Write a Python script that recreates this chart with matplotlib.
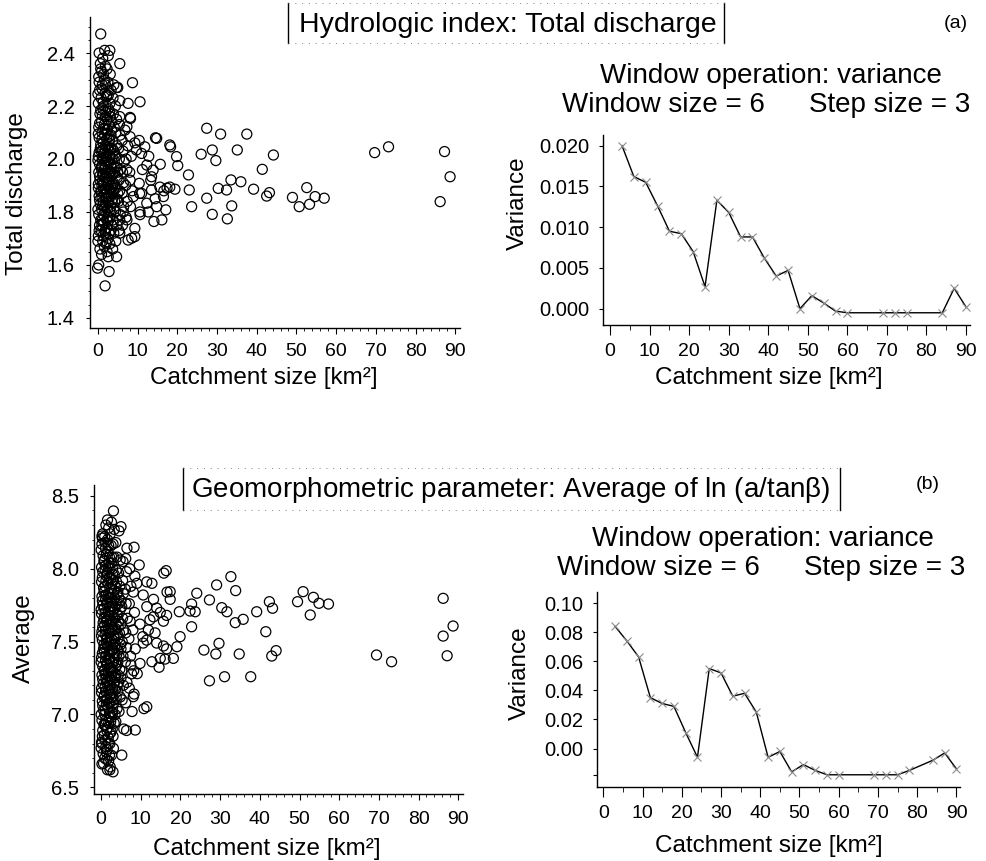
import numpy as np
import matplotlib
matplotlib.use("Agg")
import matplotlib.pyplot as plt
from matplotlib.lines import Line2D

plt.rcParams['font.family'] = ['Liberation Sans', 'DejaVu Sans']

# ---- (a) total discharge vs catchment size ----
discharge_far = [(27.4,2.116),(30.9,2.094),(37.5,2.094),(35.1,2.034),(26.0,2.018),(28.8,2.034),
    (29.7,1.994),(41.4,1.961),(44.2,2.015),(22.8,1.940),(20.1,1.975),(19.8,2.009),(18.3,2.046),
    (23.0,1.883),(23.6,1.820),(27.4,1.852),(30.3,1.889),(32.4,1.883),(33.5,1.921),(36.0,1.914),
    (33.7,1.823),(28.8,1.791),(32.6,1.774),(39.2,1.886),(42.5,1.860),(43.2,1.873),(49.0,1.855),
    (50.7,1.820),(52.6,1.892),(53.3,1.829),(54.7,1.858),(57.0,1.852),(69.7,2.024),(73.2,2.046),
    (87.3,2.028),(88.7,1.933),(86.2,1.839),(19.4,1.886),(17.1,1.808),(16.1,1.770),(14.1,1.764),
    (14.5,2.080)]
discharge_mid = [(3.0,2.41),(5.5,2.36),(8.7,2.288),(10.6,2.216),(8.1,2.157),(7.6,2.21),(5.0,2.27),
    (10.4,2.07),(14.8,2.078),(18.1,2.053),(18.1,1.894),(15.6,1.894),(13.5,1.933),(12.3,1.977),
    (11.0,2.021),(9.3,1.707),(7.6,1.694),(5.5,1.72),(2.8,1.575),(-0.1,1.588),(1.8,1.521),
    (4.7,1.631),(2.6,1.631),(5.5,1.77),(6.4,1.80),(10.6,1.80),(12.3,1.833),(8.9,1.858),(11.0,1.87),
    (13.5,1.883),(10.4,1.908),(8.1,1.92),(13.9,1.958),(16.5,1.858),(14.8,1.82),(12.7,1.80),
    (9.7,2.034),(8.1,2.084),(7.3,2.122),(5.5,2.16),(5.5,2.22),(0.7,2.472),(9.3,1.738),(8.5,1.701),
    (4.7,2.270),(8.2,2.153),(6.8,2.109),(9.3,2.061),(11.8,2.046),(11.2,1.96),(13.3,1.92),
    (10.5,1.87),(10.6,1.79),(7.3,1.77),(15.7,1.98),(14.4,1.85),(16.6,1.88),(17.4,1.89),(12.8,2.01)]
discharge_dense = [(0.2,1.60),(0.5,1.66),(0.1,1.71),(0.4,1.75),(0.2,1.79),(0.6,1.83),(0.3,1.86),
    (0.1,1.89),(0.5,1.92),(0.2,1.95),(0.4,1.98),(0.1,2.01),(0.6,2.04),(0.3,2.08),(0.2,2.12),
    (0.5,2.17),(0.1,2.21),(0.4,2.26),(0.2,2.31),(0.6,2.36),(0.3,2.40),
    (0.9,1.64),(1.2,1.69),(0.8,1.73),(1.1,1.77),(0.9,1.81),(1.3,1.84),(0.8,1.88),(1.0,1.90),
    (1.2,1.94),(0.9,1.97),(1.1,2.00),(0.8,2.03),(1.3,2.06),(1.0,2.10),(0.9,2.14),(1.2,2.19),
    (0.8,2.23),(1.1,2.28),(0.9,2.33),(1.2,2.38),
    (1.6,1.67),(1.9,1.72),(1.5,1.76),(1.8,1.80),(1.6,1.82),(2.0,1.85),(1.7,1.87),(1.5,1.91),
    (1.9,1.93),(1.6,1.96),(1.8,1.99),(1.5,2.02),(2.0,2.05),(1.7,2.09),(1.6,2.13),(1.9,2.16),
    (1.5,2.20),(1.8,2.25),(1.6,2.30),(1.9,2.35),(1.7,2.41),
    (2.3,1.65),(2.6,1.70),(2.2,1.74),(2.5,1.78),(2.4,1.81),(2.7,1.84),(2.2,1.87),(2.5,1.90),
    (2.3,1.93),(2.6,1.96),(2.4,1.99),(2.2,2.02),(2.7,2.06),(2.4,2.11),(2.3,2.15),(2.6,2.19),
    (2.2,2.24),(2.5,2.29),(2.3,2.34),(2.6,2.39),
    (3.0,1.68),(3.3,1.73),(2.9,1.78),(3.2,1.82),(3.0,1.86),(3.4,1.89),(2.9,1.92),(3.1,1.95),
    (3.3,1.98),(3.0,2.01),(3.2,2.04),(2.9,2.07),(3.4,2.11),(3.1,2.16),(3.0,2.21),(3.3,2.26),
    (3.1,2.32),
    (3.7,1.66),(4.0,1.72),(3.8,1.77),(4.1,1.81),(3.7,1.85),(4.0,1.88),(3.9,1.91),(3.6,1.94),
    (4.1,1.97),(3.8,2.00),(4.0,2.03),(3.7,2.07),(4.1,2.12),(3.9,2.17),(3.8,2.23),(4.0,2.28),
    (4.5,1.69),(4.8,1.75),(4.4,1.80),(4.7,1.85),(4.5,1.89),(4.9,1.93),(4.6,1.97),(4.4,2.01),
    (4.8,2.05),(4.5,2.10),(4.7,2.15),(4.4,2.20),
    (5.3,1.73),(5.6,1.79),(5.2,1.84),(5.5,1.88),(5.3,1.92),(5.7,1.96),(5.4,2.00),(5.2,2.04),
    (5.6,2.09),(5.4,2.13),
    (6.2,1.75),(6.5,1.82),(6.1,1.87),(6.4,1.91),(6.2,1.95),(6.6,1.99),(6.3,2.03),(6.1,2.07),
    (7.1,1.78),(7.4,1.84),(7.0,1.90),(7.3,1.96),(7.1,2.00),(7.5,2.05),
    (8.2,1.82),(8.6,1.88),(8.0,1.95),(8.4,2.01)]
discharge_core = [(0.0,1.69),(0.3,1.73),(0.7,1.77),(0.0,1.81),(0.4,1.845),(0.7,1.875),
    (0.1,1.905),(0.4,1.935),(0.8,1.965),(0.0,1.995),(0.3,2.025),(0.7,2.055),(0.1,2.095),
    (0.4,2.135),(0.7,2.185),(0.0,2.245),(0.3,2.29),(0.7,2.34),
    (1.3,1.71),(1.0,1.75),(1.4,1.79),(1.2,1.825),(1.0,1.855),(1.4,1.885),(1.1,1.915),(1.3,1.945),
    (1.0,1.975),(1.4,2.005),(1.2,2.035),(1.0,2.075),(1.4,2.115),(1.1,2.165),(1.3,2.215),
    (1.0,2.265),(1.4,2.32),
    (2.1,1.68),(1.8,1.73),(2.2,1.77),(1.9,1.825),(2.1,1.855),(1.8,1.885),(2.2,1.915),(2.0,1.945),
    (1.8,1.975),(2.1,2.005),(1.9,2.035),(2.2,2.075),(1.8,2.115),(2.0,2.175),(2.2,2.235),(1.9,2.28),
    (2.8,1.72),(2.6,1.765),(2.9,1.805),(2.7,1.855),(2.9,1.885),(2.6,1.915),(2.8,1.945),(2.7,1.985),
    (2.9,2.015),(2.6,2.045),(2.8,2.085),(2.7,2.13),(2.9,2.18),(2.6,2.24),
    (3.5,1.75),(3.3,1.80),(3.6,1.835),(3.4,1.87),(3.6,1.905),(3.3,1.935),(3.5,1.965),(3.4,2.00),
    (3.6,2.04),(3.3,2.09),(3.5,2.14),
    (4.2,1.84),(4.3,1.90),(4.2,1.95),(4.3,2.02),(5.0,1.87),(5.0,1.95)]

# ---- (b) average ln(a/tan b) vs catchment size ----
lnatb_far = [(3.1,8.397),(32.7,7.946),(29.1,7.889),(33.9,7.850),(24.1,7.832),(27.3,7.786),
    (22.8,7.758),(30.4,7.733),(31.7,7.705),(23.7,7.705),(22.4,7.71),(19.7,7.705),(35.8,7.653),
    (33.8,7.630),(39.2,7.705),(42.4,7.774),(43.2,7.729),(41.5,7.568),(22.8,7.602),(19.9,7.534),
    (19.1,7.465),(18.2,7.385),(25.9,7.442),(28.9,7.415),(29.7,7.488),(34.8,7.415),(44.1,7.438),
    (43.0,7.401),(27.3,7.231),(31.1,7.259),(37.7,7.259),(49.5,7.774),(50.9,7.843),(53.5,7.804),
    (54.9,7.763),(57.3,7.758),(52.7,7.683),(69.4,7.408),(73.2,7.362),(86.2,7.797),(88.7,7.607),
    (86.2,7.538),(87.2,7.403)]
lnatb_mid = [(16.4,7.987),(15.8,7.97),(9.6,8.026),(17.4,7.843),(16.6,7.84),(12.8,7.900),
    (11.5,7.053),(8.6,6.893),(8.1,7.122),(5.2,6.721),(3.0,6.606),(3.1,6.767),(8.3,8.148),
    (5.0,8.289),(1.6,8.335),(0.2,8.225),(14.9,7.385),(14.6,7.324),(12.8,7.362),(9.8,7.35),
    (7.7,7.279),(10.5,7.534),(6.5,8.141),(6.2,8.07),(6.4,6.89),(5.7,6.90),(10.8,7.04),(9.1,7.28),
    (7.5,7.34),(11.5,7.51),(11.9,7.58),(12.3,7.65),(11.5,7.74),(13.2,7.79),(10.6,7.82),(9.0,7.90),
    (11.5,7.91),(14.0,7.73),(14.9,7.70),(15.7,7.64),(13.6,7.56),(14.0,7.49),(15.7,7.47),
    (16.1,7.38),(16.5,7.45),(17.4,7.79),(16.5,7.68),(13.2,7.67),(10.6,7.49),(9.8,7.62),(4.5,8.26),
    (0.6,6.664),(2.2,6.62),(1.4,6.69),(0.2,6.80),(0.9,6.93),(8.3,7.14),(7.8,7.02)]
lnatb_dense = [(0.2,6.66),(0.5,6.73),(0.1,6.81),(0.4,6.89),(0.2,6.96),(0.6,7.03),(0.3,7.09),
    (0.1,7.15),(0.5,7.21),(0.2,7.27),(0.4,7.33),(0.1,7.39),(0.6,7.45),(0.3,7.51),(0.2,7.57),
    (0.5,7.63),(0.1,7.69),(0.4,7.75),(0.2,7.81),(0.6,7.87),(0.3,7.94),(0.1,8.01),(0.5,8.09),
    (0.2,8.17),(0.4,8.24),
    (0.9,6.70),(1.2,6.78),(0.8,6.86),(1.1,6.93),(0.9,7.00),(1.3,7.07),(0.8,7.13),(1.0,7.19),
    (1.2,7.25),(0.9,7.31),(1.1,7.37),(0.8,7.43),(1.3,7.49),(1.0,7.55),(0.9,7.61),(1.2,7.67),
    (0.8,7.73),(1.1,7.79),(0.9,7.85),(1.2,7.92),(1.0,7.99),(0.8,8.06),(1.1,8.14),(0.9,8.22),
    (1.2,8.30),
    (1.6,6.62),(1.9,6.68),(1.5,6.76),(1.8,6.84),(1.6,6.91),(2.0,6.98),(1.7,7.05),(1.5,7.11),
    (1.9,7.17),(1.6,7.23),(1.8,7.29),(1.5,7.35),(2.0,7.41),(1.7,7.47),(1.6,7.53),(1.9,7.59),
    (1.5,7.65),(1.8,7.71),(1.6,7.77),(1.9,7.83),(1.7,7.90),(1.5,7.97),(2.0,8.04),(1.7,8.12),
    (1.6,8.20),(1.9,8.28),
    (2.3,6.64),(2.6,6.72),(2.2,6.80),(2.5,6.88),(2.4,6.95),(2.7,7.02),(2.2,7.08),(2.5,7.14),
    (2.3,7.20),(2.6,7.26),(2.4,7.32),(2.2,7.38),(2.7,7.44),(2.4,7.50),(2.3,7.56),(2.6,7.62),
    (2.2,7.68),(2.5,7.74),(2.3,7.80),(2.6,7.86),(2.4,7.93),(2.2,8.00),(2.7,8.08),(2.5,8.16),
    (2.3,8.24),(2.6,8.32),
    (3.0,6.85),(3.3,6.94),(2.9,7.01),(3.2,7.08),(3.0,7.15),(3.4,7.22),(2.9,7.29),(3.1,7.36),
    (3.3,7.42),(3.0,7.48),(3.2,7.54),(2.9,7.60),(3.4,7.66),(3.1,7.72),(3.0,7.78),(3.3,7.85),
    (3.1,7.92),(2.9,8.00),(3.2,8.08),(3.0,8.17),(3.3,8.27),
    (3.7,6.95),(4.0,7.04),(3.8,7.12),(4.1,7.20),(3.7,7.27),(4.0,7.34),(3.9,7.41),(3.6,7.48),
    (4.1,7.55),(3.8,7.62),(4.0,7.69),(3.7,7.76),(4.1,7.83),(3.9,7.91),(3.8,7.99),(4.0,8.08),
    (3.7,8.18),
    (4.5,7.02),(4.8,7.12),(4.4,7.22),(4.7,7.31),(4.5,7.40),(4.9,7.48),(4.6,7.56),(4.4,7.64),
    (4.8,7.72),(4.5,7.80),(4.7,7.88),(4.4,7.97),(4.8,8.06),
    (5.3,7.10),(5.6,7.20),(5.2,7.30),(5.5,7.40),(5.3,7.50),(5.7,7.58),(5.4,7.66),(5.2,7.74),
    (5.6,7.83),(5.4,7.92),(5.5,8.05),
    (6.2,7.08),(6.5,7.22),(6.1,7.36),(6.4,7.46),(6.2,7.56),(6.6,7.66),(6.3,7.76),(6.1,7.86),
    (6.4,7.98),
    (7.1,7.18),(7.4,7.40),(7.0,7.52),(7.3,7.64),(7.1,7.76),(7.5,7.88),(7.2,8.00),
    (8.2,7.30),(8.6,7.45),(8.0,7.58),(8.4,7.70),(8.1,7.84),(8.5,7.95)]
lnatb_core = [(0.0,6.77),(0.3,6.85),(0.7,6.93),(0.0,7.00),(0.4,7.06),(0.7,7.12),(0.1,7.18),
    (0.4,7.24),(0.8,7.30),(0.0,7.36),(0.3,7.42),(0.7,7.48),(0.1,7.54),(0.4,7.60),(0.7,7.66),
    (0.0,7.72),(0.3,7.78),(0.7,7.84),(0.1,7.91),(0.4,7.98),(0.7,8.05),(0.0,8.13),(0.3,8.21),
    (1.3,6.74),(1.0,6.82),(1.4,6.89),(1.2,6.96),(1.0,7.03),(1.4,7.10),(1.1,7.16),(1.3,7.22),
    (1.0,7.28),(1.4,7.34),(1.2,7.40),(1.0,7.46),(1.4,7.52),(1.1,7.58),(1.3,7.64),(1.0,7.70),
    (1.4,7.76),(1.2,7.82),(1.0,7.88),(1.4,7.95),(1.1,8.02),(1.3,8.10),(1.0,8.18),
    (2.1,6.72),(1.8,6.80),(2.2,6.87),(1.9,6.94),(2.1,7.01),(1.8,7.08),(2.2,7.14),(2.0,7.20),
    (1.8,7.26),(2.1,7.32),(1.9,7.38),(2.2,7.44),(1.8,7.50),(2.0,7.56),(2.2,7.62),(1.9,7.68),
    (2.1,7.74),(1.8,7.80),(2.2,7.87),(2.0,7.94),(1.8,8.01),(2.1,8.08),(1.9,8.16),
    (2.8,6.90),(2.6,6.98),(2.9,7.05),(2.7,7.12),(2.9,7.18),(2.6,7.24),(2.8,7.30),(2.7,7.36),
    (2.9,7.45),(2.6,7.52),(2.8,7.58),(2.7,7.64),(2.9,7.70),(2.6,7.77),(2.8,7.83),(2.7,7.90),
    (2.9,7.96),(2.6,8.04),
    (3.5,7.00),(3.3,7.10),(3.6,7.17),(3.4,7.25),(3.6,7.32),(3.3,7.39),(3.5,7.46),(3.4,7.52),
    (3.6,7.59),(3.3,7.66),(3.5,7.73),(3.4,7.80),(3.6,7.88),(3.3,7.96),
    (4.2,7.16),(4.3,7.27),(4.2,7.36),(4.3,7.44),(4.2,7.52),(4.3,7.60),(4.2,7.68),(4.3,7.76),
    (4.2,7.84),(5.0,7.25),(5.0,7.45),(5.0,7.62),(5.0,7.78)]

# ---- moving window variance ----
var_a_size = [3, 6, 9, 12, 15, 18, 21, 24, 27, 30, 33, 36, 39, 42, 45, 48, 51, 54, 57, 60,
              69, 72, 75, 84, 87, 90]
var_a = [0.0200, 0.0162, 0.0155, 0.0126, 0.0095, 0.0092, 0.0070, 0.0027, 0.0133, 0.0118,
         0.0088, 0.0088, 0.0062, 0.0040, 0.0047, 0.0000, 0.0016, 0.0007, -0.0003, -0.0005,
         -0.0005, -0.0005, -0.0005, -0.0005, 0.0025, 0.0002]
var_b_size = [3, 6, 9, 12, 15, 18, 21, 24, 27, 30, 33, 36, 39, 42, 45, 48, 51, 54, 57, 60,
              69, 72, 75, 78, 84, 87, 90]
var_b = [0.084, 0.074, 0.063, 0.035, 0.031, 0.029, 0.011, -0.006, 0.055, 0.052, 0.036, 0.038,
         0.025, -0.006, -0.002, -0.016, -0.011, -0.015, -0.018, -0.018, -0.018, -0.018, -0.018,
         -0.015, -0.008, -0.003, -0.014]

W, H = 987, 861


def fx(px):
    return px / W


def fy(py):
    return 1 - py / H


def axes_px(fig, x0, y0, x1, y1):
    return fig.add_axes([fx(x0), fy(y1), fx(x1) - fx(x0), (y1 - y0) / H])


def style(ax, xpad, ypad, xlen, minor_x):
    for s in ('top', 'right'):
        ax.spines[s].set_visible(False)
    for s in ('left', 'bottom'):
        ax.spines[s].set_linewidth(1.0)
    ax.set_xticks(range(0, 91, 10))
    ax.set_xticks(np.arange(0, 91, minor_x), minor=True)
    ax.tick_params(axis='x', which='major', length=xlen, width=0.8, pad=xpad, labelsize=14)
    ax.tick_params(axis='x', which='minor', length=xlen * 0.5, width=0.6)
    ax.tick_params(axis='y', which='major', length=3, width=0.8, pad=ypad, labelsize=14.5)
    ax.tick_params(axis='y', which='minor', length=1.5, width=0.6)


def scatter(ax, groups):
    for g in groups:
        arr = np.array(g)
        ax.scatter(arr[:, 0], arr[:, 1], s=52, facecolors='none', edgecolors='black',
                   linewidths=0.9)


fig = plt.figure(figsize=(W / 100, H / 100), dpi=100)

# (a) scatter
ax1 = axes_px(fig, 90, 17, 460, 328)
scatter(ax1, [discharge_dense, discharge_core, discharge_mid, discharge_far])
ax1.set_xlim(-2.0, 91.2)
ax1.set_ylim(1.362, 2.536)
ax1.set_yticks([1.4, 1.6, 1.8, 2.0, 2.2, 2.4])
ax1.set_yticks(np.arange(1.4, 2.55, 0.05), minor=True)
style(ax1, 7, 8, 4, 2)

# (a) variance
ax2 = axes_px(fig, 603, 135, 970, 325)
ax2.plot(var_a_size, var_a, color='black', lw=1.0, marker='x', ms=6, mec='0.55', mew=0.8)
ax2.set_xlim(-1.8, 91)
ax2.set_ylim(-0.0020, 0.0213)
ax2.set_yticks([0.0, 0.005, 0.010, 0.015, 0.020])
ax2.set_yticklabels(['0.000', '0.005', '0.010', '0.015', '0.020'])
style(ax2, 6, 7, 7, 5)

# (b) scatter
ax3 = axes_px(fig, 94, 485, 463, 794)
scatter(ax3, [lnatb_dense, lnatb_core, lnatb_mid, lnatb_far])
ax3.set_xlim(-1.8, 91.2)
ax3.set_ylim(6.454, 8.575)
ax3.set_yticks([6.5, 7.0, 7.5, 8.0, 8.5])
ax3.set_yticks(np.arange(6.5, 8.6, 0.1), minor=True)
style(ax3, 8, 8, 4, 2)

# (b) variance
ax4 = axes_px(fig, 597, 592, 960, 787)
ax4.plot(var_b_size, var_b, color='black', lw=1.0, marker='x', ms=6, mec='0.55', mew=0.8)
ax4.set_xlim(-1.6, 90.9)
ax4.set_ylim(-0.0264, 0.1076)
ax4.set_yticks([-0.018, 0.0, 0.02, 0.04, 0.06, 0.08, 0.10])
ax4.set_yticklabels(['', '0.00', '0.02', '0.04', '0.06', '0.08', '0.10'])
style(ax4, 6, 7, 7, 5)

# axis labels
lab = 17.5
fig.text(fx(17), fy(194), 'Total discharge', rotation=90, ha='center', va='center', fontsize=lab)
fig.text(fx(518), fy(203), 'Variance', rotation=90, ha='center', va='center', fontsize=lab)
fig.text(fx(24), fy(638), 'Average', rotation=90, ha='center', va='center', fontsize=lab)
fig.text(fx(520), fy(673), 'Variance', rotation=90, ha='center', va='center', fontsize=lab)
fig.text(fx(264), fy(378), 'Catchment size [km²]', ha='center', va='center', fontsize=lab)
fig.text(fx(769), fy(378), 'Catchment size [km²]', ha='center', va='center', fontsize=lab)
fig.text(fx(267), fy(849), 'Catchment size [km²]', ha='center', va='center', fontsize=lab)
fig.text(fx(769), fy(846), 'Catchment size [km²]', ha='center', va='center', fontsize=lab)

# window titles
for y1, y2, c1, c2, c3 in [(76, 105, 771, 663, 890), (539, 568, 763, 658, 885)]:
    fig.text(fx(c1), fy(y1), 'Window operation: variance', ha='center', va='center', fontsize=20)
    fig.text(fx(c2), fy(y2), 'Window size = 6', ha='center', va='center', fontsize=20)
    fig.text(fx(c3), fy(y2), 'Step size = 3', ha='center', va='center', fontsize=20)

# panel titles with frames
fig.text(fx(508), fy(25), 'Hydrologic index: Total discharge', ha='center', va='center',
         fontsize=20.5)
fig.text(fx(511), fy(490), r'Geomorphometric parameter: Average of ln (a/tan$\mathregular{\beta}$)',
         ha='center', va='center', fontsize=20)
fig.text(fx(956), fy(24), '(a)', ha='center', va='center', fontsize=14)
fig.text(fx(928), fy(484), '(b)', ha='center', va='center', fontsize=14)

for left, right, top, bot in [(288, 724, 3, 43), (183, 840, 468, 510)]:
    fig.add_artist(Line2D([fx(left), fx(left)], [fy(top), fy(bot)], color='black', lw=1.0))
    fig.add_artist(Line2D([fx(right), fx(right)], [fy(top), fy(bot)], color='black', lw=1.0))
    fig.add_artist(Line2D([fx(left), fx(right)], [fy(top), fy(top)], color='0.5', lw=0.7,
                          ls=(0, (1, 6))))
    fig.add_artist(Line2D([fx(left), fx(right)], [fy(bot), fy(bot)], color='0.5', lw=0.7,
                          ls=(0, (1, 6))))

fig.savefig('out.png', dpi=100)
